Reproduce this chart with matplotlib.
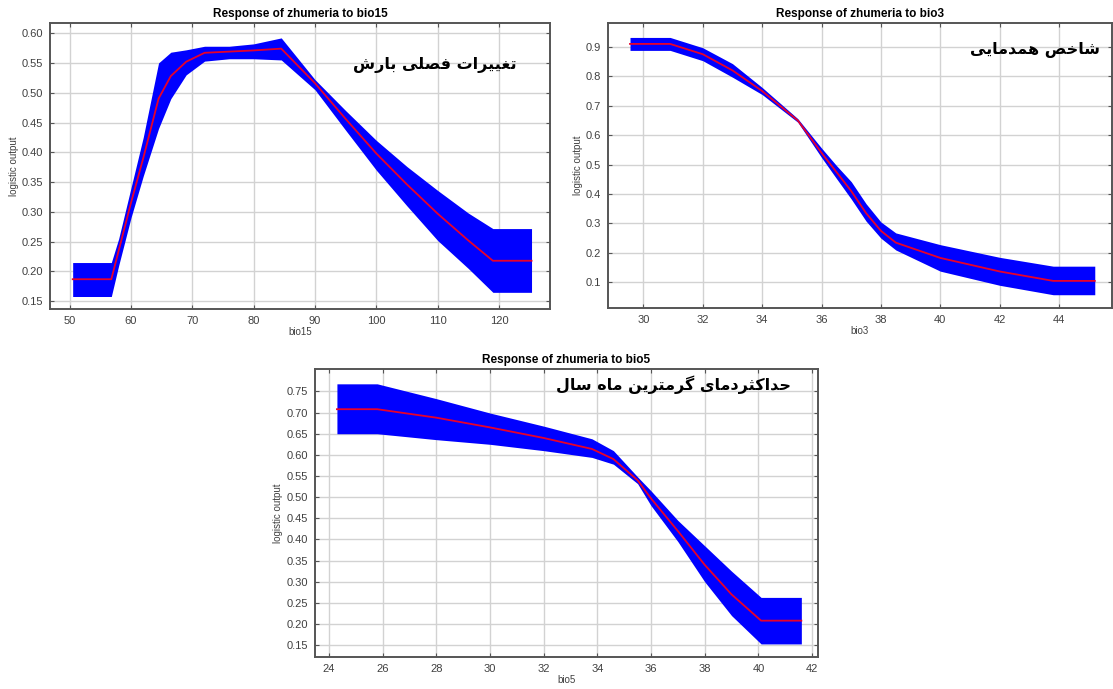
import matplotlib
matplotlib.use("Agg")
import matplotlib.pyplot as plt

# bio15 response
bio15_x = [50.5, 56.8, 58, 60, 62, 64.5, 66.5, 69, 72, 76, 80, 84.5, 90, 95, 100, 105, 110, 115, 119, 125.3]
bio15_mean = [0.187, 0.187, 0.235, 0.315, 0.39, 0.49, 0.528, 0.552, 0.567, 0.569, 0.571, 0.574,
              0.516, 0.456, 0.398, 0.346, 0.297, 0.252, 0.218, 0.218]
bio15_upper = [0.215, 0.215, 0.255, 0.34, 0.425, 0.55, 0.568, 0.572, 0.578, 0.578, 0.582, 0.592,
               0.522, 0.47, 0.42, 0.376, 0.336, 0.298, 0.272, 0.272]
bio15_lower = [0.158, 0.158, 0.21, 0.29, 0.36, 0.44, 0.49, 0.53, 0.553, 0.557, 0.557, 0.555,
               0.505, 0.437, 0.37, 0.31, 0.252, 0.205, 0.165, 0.165]

# bio3 response
bio3_x = [29.55, 30.9, 32, 33, 34, 35.2, 36, 36.5, 37, 37.5, 38, 38.5, 40, 42, 43.8, 45.2]
bio3_mean = [0.91, 0.91, 0.875, 0.82, 0.75, 0.65, 0.54, 0.475, 0.41, 0.335, 0.275, 0.235, 0.183, 0.137, 0.105, 0.105]
bio3_upper = [0.932, 0.932, 0.897, 0.843, 0.762, 0.656, 0.556, 0.497, 0.442, 0.367, 0.305, 0.268, 0.228, 0.185, 0.155, 0.155]
bio3_lower = [0.888, 0.888, 0.853, 0.797, 0.738, 0.644, 0.524, 0.453, 0.383, 0.308, 0.25, 0.21, 0.138, 0.09, 0.058, 0.058]

# bio5 response
bio5_x = [24.3, 25.8, 28, 30, 32, 33.8, 34.6, 35.5, 36, 37, 38, 39, 40.1, 41.6]
bio5_mean = [0.708, 0.708, 0.688, 0.665, 0.64, 0.614, 0.59, 0.54, 0.497, 0.42, 0.34, 0.27, 0.208, 0.208]
bio5_upper = [0.768, 0.768, 0.733, 0.699, 0.668, 0.638, 0.61, 0.548, 0.515, 0.445, 0.385, 0.325, 0.263, 0.263]
bio5_lower = [0.65, 0.65, 0.636, 0.625, 0.61, 0.594, 0.578, 0.532, 0.48, 0.395, 0.30, 0.22, 0.153, 0.153]

labels_fa = ["تغییرات فصلی بارش", "شاخص همدمایی", "حداکثردمای گرمترین ماه سال"]

# presentation forms: isolated, final, initial, medial
FORMS = {
    "ا": ("\uFE8D", "\uFE8E", None, None),
    "ب": ("\uFE8F", "\uFE90", "\uFE91", "\uFE92"),
    "ت": ("\uFE95", "\uFE96", "\uFE97", "\uFE98"),
    "ث": ("\uFE99", "\uFE9A", "\uFE9B", "\uFE9C"),
    "ح": ("\uFEA1", "\uFEA2", "\uFEA3", "\uFEA4"),
    "خ": ("\uFEA5", "\uFEA6", "\uFEA7", "\uFEA8"),
    "د": ("\uFEA9", "\uFEAA", None, None),
    "ر": ("\uFEAD", "\uFEAE", None, None),
    "س": ("\uFEB1", "\uFEB2", "\uFEB3", "\uFEB4"),
    "ش": ("\uFEB5", "\uFEB6", "\uFEB7", "\uFEB8"),
    "ص": ("\uFEB9", "\uFEBA", "\uFEBB", "\uFEBC"),
    "غ": ("\uFECD", "\uFECE", "\uFECF", "\uFED0"),
    "ف": ("\uFED1", "\uFED2", "\uFED3", "\uFED4"),
    "ل": ("\uFEDD", "\uFEDE", "\uFEDF", "\uFEE0"),
    "م": ("\uFEE1", "\uFEE2", "\uFEE3", "\uFEE4"),
    "ن": ("\uFEE5", "\uFEE6", "\uFEE7", "\uFEE8"),
    "ه": ("\uFEE9", "\uFEEA", "\uFEEB", "\uFEEC"),
    "ک": ("\uFB8E", "\uFB8F", "\uFB90", "\uFB91"),
    "گ": ("\uFB92", "\uFB93", "\uFB94", "\uFB95"),
    "ی": ("\uFBFC", "\uFBFD", "\uFBFE", "\uFBFF"),
}


def shape(text):
    # matplotlib has no arabic shaping, so pick the joined forms by hand and flip for RTL
    out = []
    for i, ch in enumerate(text):
        if ch not in FORMS:
            out.append(ch)
            continue
        prev = text[i - 1] if i > 0 else ""
        nxt = text[i + 1] if i + 1 < len(text) else ""
        dual = FORMS[ch][2] is not None
        join_prev = prev in FORMS and FORMS[prev][2] is not None
        join_next = dual and nxt in FORMS
        if join_prev and join_next:
            out.append(FORMS[ch][3])
        elif join_prev:
            out.append(FORMS[ch][1])
        elif join_next:
            out.append(FORMS[ch][2])
        else:
            out.append(FORMS[ch][0])
    return "".join(reversed(out))


plt.rcParams["font.family"] = ["Liberation Sans", "DejaVu Sans"]

fig = plt.figure(figsize=(11.13, 6.89), dpi=100)


def plotResponse(rect, x, mean, upper, lower, var, xlim, ylim, xticks, yticks, yfmt, label, lpos):
    ax = fig.add_axes(rect)
    ax.fill_between(x, lower, upper, color="#0000ff", linewidth=0, zorder=2)
    ax.plot(x, mean, color="#e8002a", linewidth=1.3, zorder=3)

    ax.set_xlim(*xlim)
    ax.set_ylim(*ylim)
    ax.set_xticks(xticks)
    ax.set_yticks(yticks)
    ax.set_yticklabels([yfmt.format(v) for v in yticks])
    ax.grid(True, color="#d2d2d2", linewidth=1.0, zorder=0)
    ax.set_axisbelow(True)
    ax.tick_params(direction="in", top=True, right=True, length=3, width=0.8,
                   labelsize=8, labelcolor="#404040", color="#555555", pad=5)
    for s in ax.spines.values():
        s.set_color("#555555")
        s.set_linewidth(1.4)

    ax.set_title(f"Response of zhumeria to {var}", fontsize=8.5, fontweight="bold", pad=4)
    ax.set_xlabel(var, fontsize=7, color="#404040", labelpad=1)
    ax.set_ylabel("logistic output", fontsize=7, color="#404040", labelpad=2)

    ax.text(lpos[0], lpos[1], shape(label), transform=ax.transAxes, ha="right", va="center",
            fontsize=11.5, fontweight="bold", family=["DejaVu Sans"], color="black", zorder=5)
    return ax


plotResponse([0.0449, 0.5515, 0.4492, 0.4151], bio15_x, bio15_mean, bio15_upper, bio15_lower,
             "bio15", (46.8, 128.3), (0.137, 0.617), range(50, 121, 10),
             [0.15 + 0.05 * i for i in range(10)], "{:.2f}", labels_fa[0], (0.934, 0.853))

plotResponse([0.5463, 0.553, 0.4528, 0.4136], bio3_x, bio3_mean, bio3_upper, bio3_lower,
             "bio3", (28.81, 45.78), (0.013, 0.981), range(30, 45, 2),
             [0.1 * i for i in range(1, 10)], "{:.1f}", labels_fa[1], (0.976, 0.905))

plotResponse([0.2827, 0.0464, 0.452, 0.418], bio5_x, bio5_mean, bio5_upper, bio5_lower,
             "bio5", (23.47, 42.21), (0.122, 0.803), range(24, 43, 2),
             [0.15 + 0.05 * i for i in range(13)], "{:.2f}", labels_fa[2], (0.947, 0.944))

fig.savefig("out.png", dpi=100)
